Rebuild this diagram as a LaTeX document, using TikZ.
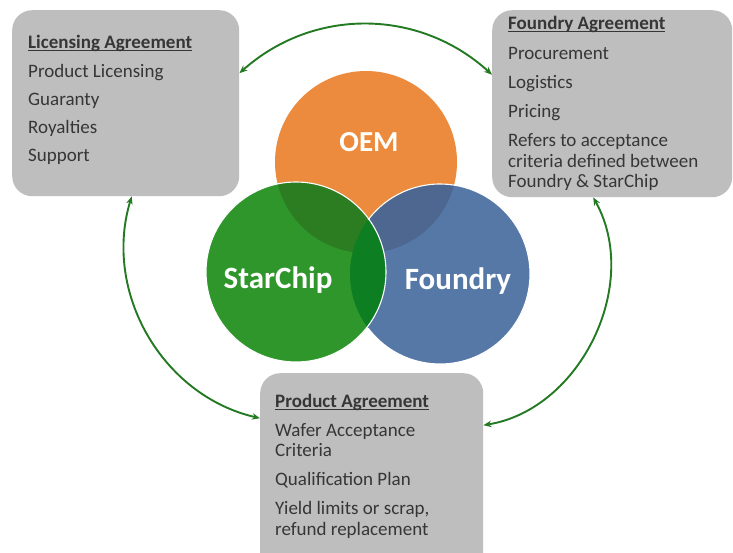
\documentclass[tikz,border=0pt]{standalone}
\usepackage{fontspec}
\setmainfont{Carlito}
\usetikzlibrary{arrows.meta}
\definecolor{boxgray}{HTML}{BEBEBE}
\definecolor{txtgray}{HTML}{363636}
\definecolor{oemor}{HTML}{EC8B3D}
\definecolor{scgreen}{HTML}{2E962B}
\definecolor{fdblue}{HTML}{5578A7}
\definecolor{oemsc}{HTML}{2C7D22}
\definecolor{oemfd}{HTML}{4D6790}
\definecolor{scfd}{HTML}{0D7E22}
\definecolor{arrgreen}{HTML}{237A23}
\newcommand{\hul}[1]{\leavevmode\setbox0\hbox{#1}\rlap{\rule[-2.2pt]{\wd0}{1.1pt}}\box0}
\begin{document}
\begin{tikzpicture}[x=1pt,y=-1pt,
  agbox/.style={fill=boxgray, draw=none, rounded corners=20pt, inner sep=0pt, anchor=north west},
  txt/.style={align=left, inner sep=0pt, text=txtgray, anchor=base west, font=\fontsize{19}{20.5}\selectfont},
  disc/.style={circle, draw=none, inner sep=0pt, minimum size=#1},
  outl/.style={draw=white, line width=1.1pt},
  clabel/.style={text=white, inner sep=0pt, anchor=base, font=\bfseries\fontsize{31}{33}\selectfont},
  conn/.style={draw=arrgreen, line width=1.9pt, {Stealth[length=8pt,width=6.5pt]}-{Stealth[length=8pt,width=6.5pt]}}]
\useasboundingbox (0,0) rectangle (733,553);
\fill[white] (0,0) rectangle (733,553);

% boxes
\node[agbox, minimum width=227, minimum height=186] (lic) at (12,10) {};
\node[agbox, minimum width=240, minimum height=187] (fa) at (492,10) {};
\node[agbox, minimum width=223, minimum height=200] (pa) at (260,373) {};

% text nodes: anchored at the baseline of their last line
\node[txt] (lict) at (28,162) {\textbf{\hul{Licensing Agreement}}\\[7.8pt]
Product Licensing\\[7.8pt] Guaranty\\[7.8pt] Royalties\\[7.8pt] Support};
\node[txt] (fat) at (508,188) {\textbf{\hul{Foundry Agreement}}\\[8.8pt]
Procurement\\[8.8pt] Logistics\\[8.8pt] Pricing\\[8.8pt] Refers to acceptance\\
criteria defined between\\ Foundry \& StarChip};
\node[txt] (pat) at (275,535) {\textbf{\hul{Product Agreement}}\\[8.3pt]
Wafer Acceptance\\ Criteria\\[8.3pt] Quali{}fication Plan\\[8.3pt]
Yield limits or scrap,\\ refund replacement};

% circles
\node[disc=182, fill=oemor] (oem) at (366,162) {};
\node[disc=180, fill=fdblue] (fd) at (440,274) {};
\node[disc=180, fill=scgreen] (sc) at (296,272) {};
\begin{scope}
  \clip (oem.center) circle[radius=91];
  \fill[oemfd] (fd.center) circle[radius=90];
  \fill[oemsc] (sc.center) circle[radius=90];
\end{scope}
\begin{scope}
  \clip (sc.center) circle[radius=90];
  \fill[scfd] (fd.center) circle[radius=90];
\end{scope}
\draw[outl] ([shift={(143:90)}]fd.center) arc[start angle=143, end angle=-143, radius=90];
\draw[outl] (sc.center) circle[radius=90];

\node[clabel, font=\bfseries\fontsize{29}{31}\selectfont] (oeml) at (369,152) {OEM};
\node[clabel] (scl) at (278,288) {StarChip};
\node[clabel] (fdl) at (458,289) {Foundry};

% connectors
\draw[conn] ([yshift=30pt]lic.east) to[bend left=42] ([yshift=29pt]fa.west);
\draw[conn] ([xshift=6pt]lic.south) to[bend right=47] ([yshift=55pt]pa.west);
\draw[conn] ([xshift=-19pt]fa.south) to[bend left=55] ([yshift=48pt]pa.east);
\end{tikzpicture}
\end{document}
